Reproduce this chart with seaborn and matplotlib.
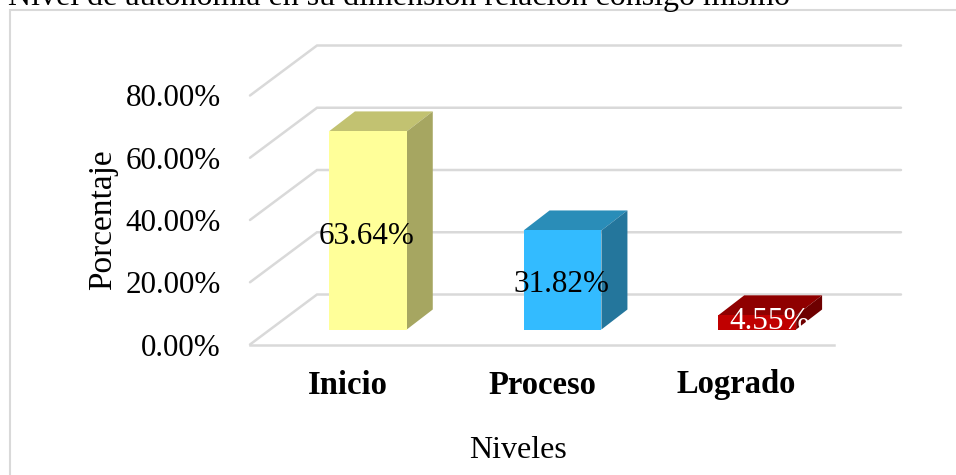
import matplotlib
matplotlib.use('Agg')
import matplotlib.pyplot as plt
from matplotlib.patches import Polygon, Rectangle
from matplotlib.transforms import IdentityTransform
import pandas as pd
import seaborn as sns

niveles = ['Inicio', 'Proceso', 'Logrado']
porcentajes = [63.64, 31.82, 4.55]
etiquetas = ['63.64%', '31.82%', '4.55%']
yticks = [0, 20, 40, 60, 80]
ytick_labels = ['0.00%', '20.00%', '40.00%', '60.00%', '80.00%']
titulo = 'Nivel de autonomía en su dimensión relación consigo mismo'

front_colors = ['#FFFF99', '#33BBFF', '#C00000']
top_colors = ['#C2C271', '#2A8DB8', '#8F0000']
side_colors = ['#A6A661', '#24769C', '#6E0000']
label_colors = ['black', 'black', 'white']
label_shift = [(19, 9), (19, 10), (33, 16)]
GRID = '#D9D9D9'

# fake 3d depth, in pixels
BAR_PLANE = (20.5, 15)
BAR_DEPTH = (26, 20)
WALL = (67, 50)

W, H = 956, 475
sns.set_theme(style='white')
plt.rcParams['font.family'] = ['Liberation Serif', 'DejaVu Serif']

fig = plt.figure(figsize=(W / 100, H / 100), dpi=100)
ax = fig.add_axes([250 / W, 1 - 344.5 / H, 584 / W, 249 / H])

df = pd.DataFrame({'Nivel': niveles, 'Porcentaje': porcentajes})
sns.barplot(data=df, x='Nivel', y='Porcentaje', hue='Nivel', palette=front_colors,
            saturation=1, width=0.4, legend=False, ax=ax, zorder=4)

ax.set_xlim(-0.5, 2.5)
ax.set_ylim(0, 80)
ax.set_yticks(yticks, ytick_labels, fontsize=22.4, color='black')
ax.tick_params(axis='y', length=0, pad=21)
ax.tick_params(axis='x', length=0, pad=18)
for lab in ax.get_xticklabels():
    lab.set_fontsize(23.5)
    lab.set_fontweight('bold')
    lab.set_color('black')
ax.set_xlabel('Niveles', fontsize=23, color='black')
ax.set_ylabel('Porcentaje', fontsize=24, color='black')
ax.xaxis.set_label_coords((518 - 250) / 584, -(450 - 344.5) / 249, transform=ax.transAxes)
ax.xaxis.label.set_va('center')
ax.yaxis.set_label_coords(-(100 - 250) / -584 + 0.005, 0.5)
ax.yaxis.label.set_va('center')
sns.despine(ax=ax, left=True, top=True, right=True)
ax.spines['bottom'].set_color(GRID)
ax.spines['bottom'].set_linewidth(1.8)
ax.patch.set_alpha(0)


def to_px(x, y, shift=(0, 0)):
    px, py = ax.transData.transform((x, y))
    return px + shift[0], py + shift[1]


# grid: side wall diagonals plus back wall lines
for v in yticks:
    a = to_px(-0.5, v)
    b = to_px(-0.5, v, WALL)
    c = to_px(2.5, v, WALL)
    ax.plot([a[0], b[0], c[0]], [a[1], b[1], c[1]], color=GRID, lw=1.8,
            transform=IdentityTransform(), clip_on=False, zorder=1,
            solid_joinstyle='miter')

# bars: shift the seaborn front faces and add the top and side faces
for i, bar in enumerate(ax.patches):
    x0, x1 = bar.get_x(), bar.get_x() + bar.get_width()
    h = bar.get_height()
    fl = to_px(x0, 0, BAR_PLANE)
    fr = to_px(x1, 0, BAR_PLANE)
    tl = to_px(x0, h, BAR_PLANE)
    tr = to_px(x1, h, BAR_PLANE)
    ox, oy = BAR_DEPTH
    bar.set_visible(False)
    ax.add_patch(Polygon([fl, fr, tr, tl], closed=True, facecolor=front_colors[i], lw=0,
                         transform=IdentityTransform(), clip_on=False, zorder=5))
    ax.add_patch(Polygon([tl, tr, (tr[0] + ox, tr[1] + oy), (tl[0] + ox, tl[1] + oy)], closed=True,
                         facecolor=top_colors[i], lw=0,
                         transform=IdentityTransform(), clip_on=False, zorder=4))
    ax.add_patch(Polygon([fr, tr, (tr[0] + ox, tr[1] + oy), (fr[0] + ox, fr[1] + oy)], closed=True,
                         facecolor=side_colors[i], lw=0,
                         transform=IdentityTransform(), clip_on=False, zorder=4))
    ax.annotate(etiquetas[i], xy=(i, h / 2), xytext=label_shift[i], textcoords='offset pixels',
                ha='center', va='center', fontsize=22.4, color=label_colors[i],
                annotation_clip=False, zorder=6)

# chart frame runs off the right and bottom of the crop
fig.add_artist(Rectangle((9.5 / W, -0.1), 1.1, 1.1 - 9.5 / H, transform=fig.transFigure,
                         facecolor='none', edgecolor=GRID, lw=1.5, zorder=0))
fig.text(8 / W, 1 - 4.5 / H, titulo, fontsize=23, color='black', ha='left', va='baseline')

fig.savefig('out.png', dpi=100)
